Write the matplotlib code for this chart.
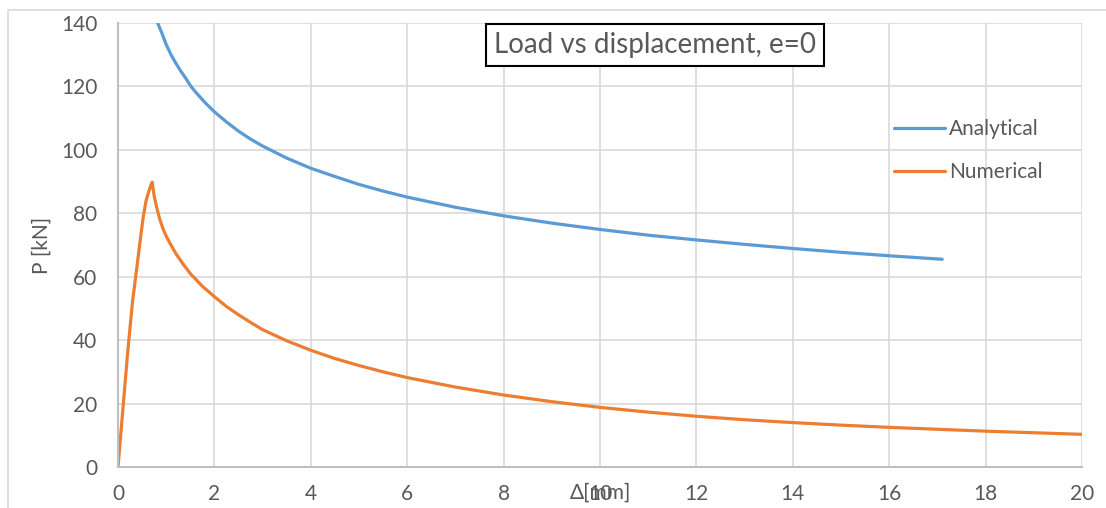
import matplotlib
matplotlib.use("Agg")
import matplotlib.pyplot as plt
from matplotlib.patches import Rectangle

# ---- data ----
analytical_x = [0.8, 0.9, 1.0, 1.1, 1.2, 1.3, 1.4, 1.5, 1.6, 1.8, 2.0, 2.25, 2.5, 2.75, 3.0,
                3.5, 4.0, 4.5, 5.0, 5.5, 6.0, 7.0, 8.0, 9.0, 10.0, 11.0, 12.0, 13.0, 14.0,
                15.0, 16.0, 17.1]
analytical_p = [140.8, 137.2, 133.2, 130.0, 127.3, 124.9, 122.7, 120.3, 118.4, 115.0, 112.0,
                108.8, 105.9, 103.4, 101.2, 97.4, 94.2, 91.6, 89.1, 87.0, 85.1, 81.9, 79.2,
                76.9, 74.9, 73.1, 71.6, 70.2, 68.9, 67.7, 66.6, 65.5]

numerical_x = [0, 0.1, 0.2, 0.3, 0.4, 0.47, 0.525, 0.58, 0.63, 0.67, 0.71, 0.75, 0.8, 0.87,
               0.95, 1.0, 1.08, 1.2, 1.35, 1.5, 1.75, 2.0, 2.25, 2.5, 2.75, 3.0, 3.5, 4.0,
               4.5, 5.0, 5.5, 6.0, 7, 8, 9, 10, 11, 12, 13, 14, 15, 16, 17, 18, 19, 20]
numerical_p = [0, 18, 36, 52, 64, 72.6, 79, 83.8, 86.5, 88.3, 89.8, 85.5, 82, 77.9, 74.5,
               72.8, 70.5, 67.3, 64, 61, 57, 53.7, 50.6, 48, 45.6, 43.3, 39.8, 36.8, 34.2,
               32, 30, 28.2, 25.2, 22.7, 20.6, 18.8, 17.3, 16.0, 14.9, 14.0, 13.2, 12.5,
               11.9, 11.3, 10.8, 10.3]

x_ticks = [0, 2, 4, 6, 8, 10, 12, 14, 16, 18, 20]
y_ticks = [0, 20, 40, 60, 80, 100, 120, 140]

title = "Load vs displacement, e=0"
series_names = ["Analytical", "Numerical"]
x_label = "Δ[mm]"
y_label = "P [kN]"

# ---- figure ----
plt.rcParams['font.family'] = ['Lato', 'DejaVu Sans']
W, H = 1106, 508
fig = plt.figure(figsize=(W / 100, H / 100), dpi=100)
fig.patch.set_facecolor('white')

# outer chart-area frame
fig.add_artist(Rectangle((8 / W, -0.1), 1.2, 1 - 10 / H + 0.1, transform=fig.transFigure,
                         facecolor='none', edgecolor='#d9d9d9', linewidth=1.2, clip_on=False))

ax = fig.add_axes([118 / W, 1 - 467 / H, (1082 - 118) / W, (467 - 23) / H])

blue = '#5B9BD5'
orange = '#ED7D31'
ax.plot(analytical_x, analytical_p, color=blue, linewidth=2.3, label=series_names[0],
        solid_capstyle='round', solid_joinstyle='round')
ax.plot(numerical_x, numerical_p, color=orange, linewidth=2.3, label=series_names[1],
        solid_capstyle='round', solid_joinstyle='round')

ax.set_xlim(0, 20)
ax.set_ylim(0, 140)
ax.set_xticks(x_ticks)
ax.set_yticks(y_ticks)
ax.grid(True, color='#d9d9d9', linewidth=1.2)
ax.set_axisbelow(True)
for s in ['top', 'right']:
    ax.spines[s].set_visible(False)
for s in ['left', 'bottom']:
    ax.spines[s].set_color('#bfbfbf')
    ax.spines[s].set_linewidth(1.5)
ax.tick_params(length=0, labelsize=15, labelcolor='#595959')
ax.tick_params(axis='y', pad=15)
ax.tick_params(axis='x', pad=12)

ax.set_xlabel(x_label, fontsize=15, color='#595959')
ax.xaxis.set_label_coords(0.5, (467 - 493) / 444)
ax.xaxis.label.set_verticalalignment('center')
ax.set_ylabel(y_label, fontsize=15, color='#595959')
ax.yaxis.set_label_coords((42 - 118) / 964, 0.5)
ax.yaxis.label.set_verticalalignment('center')

fig.text(655 / W, 1 - 45 / H, title, fontsize=20, color='#595959', ha='center', va='center',
         bbox=dict(boxstyle='square,pad=0.3', facecolor='white', edgecolor='black', linewidth=1.5))

leg = ax.legend(loc='upper left', bbox_to_anchor=(894 / W, 1 - 119 / H),
                bbox_transform=fig.transFigure, frameon=False, fontsize=15,
                handlelength=2.45, handletextpad=0.2, labelspacing=1.1,
                borderaxespad=0, borderpad=0)
for t in leg.get_texts():
    t.set_color('#595959')

fig.savefig('out.png', dpi=100, facecolor='white')
